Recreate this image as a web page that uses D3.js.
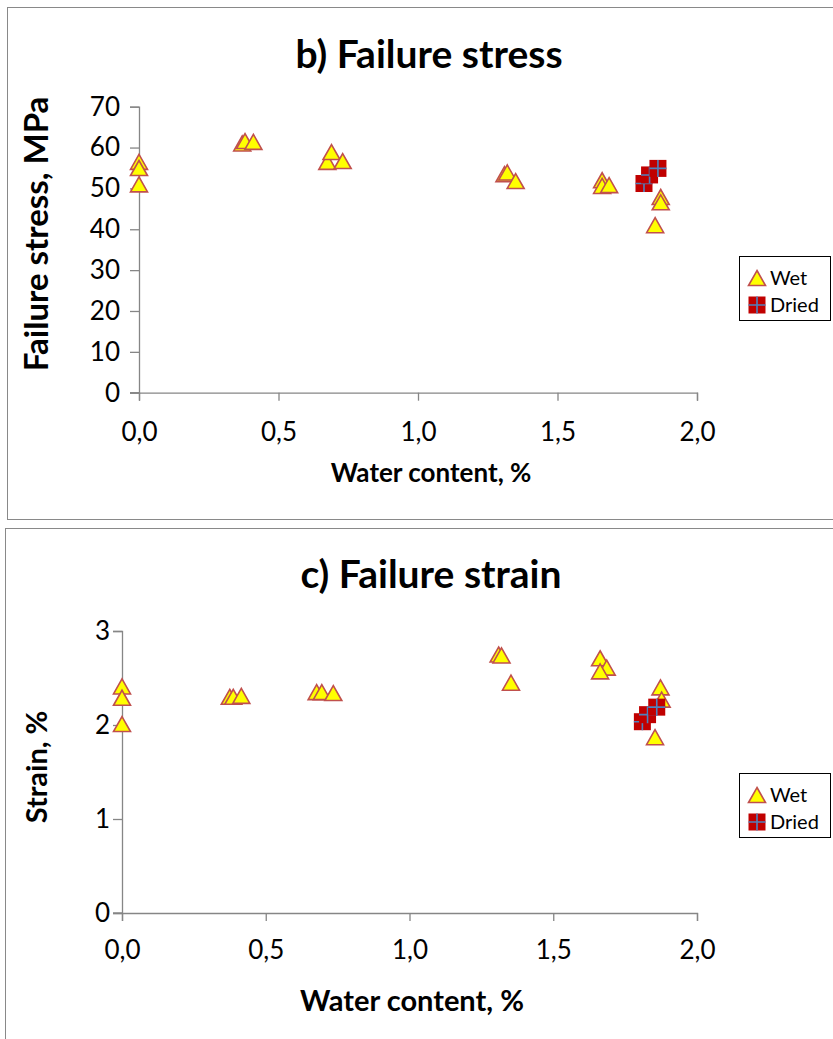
<!DOCTYPE html>
<html>
<head>
<meta charset="utf-8">
<script src="https://cdn.jsdelivr.net/npm/d3@7"></script>
<style>
  html, body { margin: 0; padding: 0; background: #fff; }
  svg { display: block; font-family: Lato, "Open Sans", sans-serif; }
</style>
</head>
<body>
<svg id="chart" width="833" height="1039"></svg>
<script>
// Water content (%) and measured values for the wet and dried specimens
const stressWetWater  = [0.00, 0.00, 0.00, 0.37, 0.38, 0.41, 0.675, 0.69, 0.73, 1.31, 1.32, 1.35, 1.66, 1.66, 1.685, 1.87, 1.87, 1.85];
const stressWetValue  = [56.5, 55.0, 51.0, 61.0, 61.6, 61.4, 56.5, 58.9, 56.7, 53.5, 53.9, 51.8, 52.0, 50.6, 50.8, 47.9, 46.6, 41.0];
const stressDryWater  = [1.81, 1.83, 1.86];
const stressDryValue  = [51.2, 53.3, 54.9];

const strainWetWater  = [0.00, 0.00, 0.00, 0.375, 0.387, 0.415, 0.677, 0.695, 0.735, 1.31, 1.32, 1.353, 1.663, 1.686, 1.663, 1.873, 1.877, 1.854];
const strainWetValue  = [2.41, 2.29, 2.01, 2.30, 2.30, 2.31, 2.35, 2.35, 2.34, 2.75, 2.74, 2.45, 2.71, 2.61, 2.57, 2.40, 2.27, 1.87];
const strainDryWater  = [1.81, 1.828, 1.86];
const strainDryValue  = [2.035, 2.11, 2.19];

const xTicks          = [0, 0.5, 1.0, 1.5, 2.0];
const stressTicks     = [0, 10, 20, 30, 40, 50, 60, 70];
const strainTicks     = [0, 1, 2, 3];
const seriesNames     = ["Wet", "Dried"];

const svg = d3.select("#chart");
const axisColor = "#868686";
const commaFmt = d3.format(".1f");

function triPath(cx, cy) {
  const hw = 8.5, hh = 7.5;
  return `M${cx},${cy - hh}L${cx + hw},${cy + hh}L${cx - hw},${cy + hh}Z`;
}

function drawTriangle(g, cx, cy) {
  g.append("path").attr("d", triPath(cx, cy))
    .attr("fill", "#FFFF00").attr("stroke", "#C0504D")
    .attr("stroke-width", 1.6).attr("stroke-linejoin", "miter");
}

function drawDried(g, cx, cy) {
  const s = 8.5;
  g.append("rect").attr("x", cx - s).attr("y", cy - s)
    .attr("width", 2 * s).attr("height", 2 * s).attr("fill", "#C00000");
  g.append("path")
    .attr("d", `M${cx - s},${cy}H${cx + s}M${cx},${cy - s}V${cy + s}`)
    .attr("stroke", "#4F81BD").attr("stroke-width", 1.6);
}

function panel(cfg) {
  const g = svg.append("g");
  // panel frame
  g.append("rect")
    .attr("x", cfg.frame[0] + 0.5).attr("y", cfg.frame[1] + 0.5)
    .attr("width", cfg.frame[2]).attr("height", cfg.frame[3])
    .attr("fill", "none").attr("stroke", "#898989").attr("stroke-width", 1);

  const x = d3.scaleLinear().domain([0, 2]).range(cfg.xRange);
  const y = d3.scaleLinear().domain(cfg.yDomain).range(cfg.yRange);

  // title
  g.append("text").attr("x", cfg.titleX).attr("y", cfg.titleY)
    .attr("text-anchor", "middle").attr("font-weight", 700)
    .attr("font-size", 39).attr("fill", "#000").text(cfg.title);

  // axes
  const xAxis = g.append("g").attr("transform", `translate(0,${cfg.yRange[0]})`)
    .call(d3.axisBottom(x).tickValues(xTicks).tickSizeOuter(0).tickSize(8).tickPadding(cfg.xPad)
      .tickFormat(d => commaFmt(d).replace(".", ",")));
  const yAxis = g.append("g").attr("transform", `translate(${cfg.xRange[0]},0)`)
    .call(d3.axisLeft(y).tickValues(cfg.yTicks).tickSizeOuter(0).tickSize(9).tickPadding(cfg.yPad)
      .tickFormat(d3.format("d")));
  [xAxis, yAxis].forEach(a => {
    a.select(".domain").attr("stroke", axisColor).attr("stroke-width", 1.3);
    a.selectAll(".tick line").attr("stroke", axisColor).attr("stroke-width", 1.3);
    a.selectAll(".tick text").attr("fill", "#000").attr("font-size", 26)
      .attr("font-family", "Lato, 'Open Sans', sans-serif");
  });
  // the x axis line also runs left to meet the y tick marks
  g.append("line")
    .attr("x1", cfg.xRange[0] - 9).attr("x2", cfg.xRange[0])
    .attr("y1", cfg.yRange[0]).attr("y2", cfg.yRange[0])
    .attr("stroke", axisColor).attr("stroke-width", 1.3);

  // axis titles
  g.append("text").attr("x", cfg.xTitleX).attr("y", cfg.xTitleY)
    .attr("text-anchor", "middle").attr("font-weight", 700)
    .attr("font-size", cfg.xTitleSize).text("Water content, %");
  g.append("text")
    .attr("transform", `translate(${cfg.yTitleX},${cfg.yTitleY}) rotate(-90)`)
    .attr("text-anchor", "middle").attr("font-weight", 700)
    .attr("font-size", cfg.yTitleSize).text(cfg.yTitle);

  // points: wet first, dried on top
  const marks = g.append("g");
  cfg.wetX.forEach((w, i) => drawTriangle(marks, x(w), y(cfg.wetY[i])));
  cfg.dryX.forEach((w, i) => drawDried(marks, x(w), y(cfg.dryY[i])));

  // legend
  const lg = g.append("g");
  lg.append("rect").attr("x", 739.5).attr("y", cfg.legendY + 0.5)
    .attr("width", 91).attr("height", 64)
    .attr("fill", "#fff").attr("stroke", "#000").attr("stroke-width", 1);
  seriesNames.forEach((name, i) => {
    const cy = cfg.legendY + 22 + i * 27;
    if (i === 0) drawTriangle(lg, 757, cy);
    else drawDried(lg, 757, cy);
    lg.append("text").attr("x", 770).attr("y", cy + 7)
      .attr("font-size", 20).attr("fill", "#000").text(name);
  });
}

panel({
  frame: [7, 7, 826, 512],
  xRange: [139, 697], yRange: [392.7, 106.7], yDomain: [0, 70], yTicks: stressTicks,
  xPad: 22, yPad: 10,
  title: "b) Failure stress", titleX: 429, titleY: 68,
  xTitleX: 431, xTitleY: 482, xTitleSize: 26,
  yTitle: "Failure stress, MPa", yTitleX: 48, yTitleY: 234, yTitleSize: 33,
  wetX: stressWetWater, wetY: stressWetValue, dryX: stressDryWater, dryY: stressDryValue,
  legendY: 256
});

panel({
  frame: [5, 528, 828, 560],
  xRange: [122, 697], yRange: [913, 631], yDomain: [0, 3], yTicks: strainTicks,
  xPad: 20, yPad: 3,
  title: "c) Failure strain", titleX: 431, titleY: 588,
  xTitleX: 412, xTitleY: 1011, xTitleSize: 29,
  yTitle: "Strain, %", yTitleX: 47, yTitleY: 767, yTitleSize: 29,
  wetX: strainWetWater, wetY: strainWetValue, dryX: strainDryWater, dryY: strainDryValue,
  legendY: 773
});
</script>
</body>
</html>
